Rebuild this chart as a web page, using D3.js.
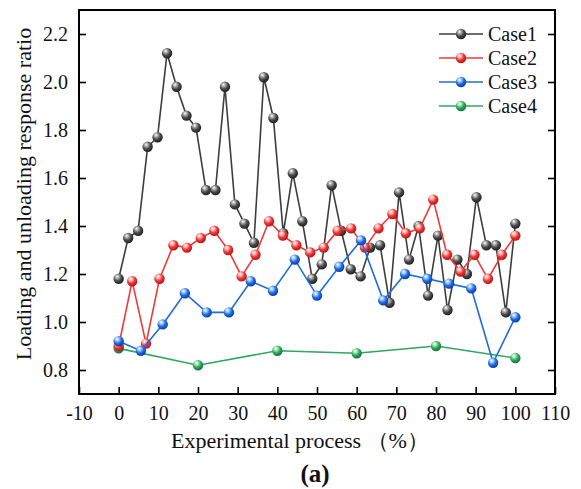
<!DOCTYPE html>
<html>
<head>
<meta charset="utf-8">
<script src="https://cdn.jsdelivr.net/npm/d3@7/dist/d3.min.js"></script>
<style>
  body { margin: 0; background: #fff; }
  svg { display: block; font-family: "Liberation Serif", "Times New Roman", serif; }
</style>
</head>
<body>
<div id="chart"></div>
<script>
// values
const xCase1 = [0, 2.4, 4.9, 7.3, 9.8, 12.2, 14.6, 17.1, 19.5, 22.0, 24.4, 26.8, 29.3, 31.7, 34.1, 36.6, 39.0, 41.5, 43.9, 46.3, 48.8, 51.2, 53.7, 56.1, 58.5, 61.0, 63.4, 65.9, 68.3, 70.7, 73.2, 75.6, 78.0, 80.5, 82.9, 85.4, 87.8, 90.2, 92.7, 95.1, 97.6, 100];
const yCase1 = [1.18, 1.35, 1.38, 1.73, 1.77, 2.12, 1.98, 1.86, 1.81, 1.55, 1.55, 1.98, 1.49, 1.41, 1.33, 2.02, 1.85, 1.37, 1.62, 1.42, 1.18, 1.24, 1.57, 1.38, 1.22, 1.19, 1.31, 1.32, 1.08, 1.54, 1.26, 1.40, 1.11, 1.36, 1.05, 1.26, 1.20, 1.52, 1.32, 1.32, 1.04, 1.41];

const xCase2 = [0, 3.4, 6.9, 10.3, 13.8, 17.2, 20.7, 24.1, 27.6, 31.0, 34.5, 37.9, 41.4, 44.8, 48.3, 51.7, 55.2, 58.6, 62.1, 65.5, 69.0, 72.4, 75.9, 79.3, 82.8, 86.2, 89.7, 93.1, 96.6, 100];
const yCase2 = [0.90, 1.17, 0.91, 1.18, 1.32, 1.31, 1.35, 1.38, 1.30, 1.19, 1.28, 1.42, 1.36, 1.32, 1.29, 1.31, 1.38, 1.39, 1.31, 1.39, 1.45, 1.37, 1.39, 1.51, 1.28, 1.21, 1.28, 1.18, 1.28, 1.36];

const xCase3 = [0, 5.6, 11.1, 16.7, 22.2, 27.8, 33.3, 38.9, 44.4, 50, 55.6, 61.1, 66.7, 72.2, 77.8, 83.3, 88.9, 94.4, 100];
const yCase3 = [0.92, 0.88, 0.99, 1.12, 1.04, 1.04, 1.17, 1.13, 1.26, 1.11, 1.23, 1.34, 1.09, 1.20, 1.18, 1.16, 1.14, 0.83, 1.02];

const xCase4 = [0, 20, 40, 60, 80, 100];
const yCase4 = [0.89, 0.82, 0.88, 0.87, 0.90, 0.85];

const xTicks = [-10, 0, 10, 20, 30, 40, 50, 60, 70, 80, 90, 100, 110];
const yTicks = [0.8, 1.0, 1.2, 1.4, 1.6, 1.8, 2.0, 2.2];

const seriesNames = ['Case1', 'Case2', 'Case3', 'Case4'];

const wSvg = 581;
const hSvg = 489;
const margin = { left: 79, right: 26, top: 10, bottom: 95 };

const colors = {
    Case1: { line: '#3d3d3d', light: '#b0b0b0', mid: '#4a4a4a', dark: '#202020' },
    Case2: { line: '#f03a3a', light: '#ffb8b8', mid: '#f03434', dark: '#b01818' },
    Case3: { line: '#1f6de0', light: '#a8ccff', mid: '#1f6de6', dark: '#0c3f9a' },
    Case4: { line: '#2ea860', light: '#a8e8c0', mid: '#2faa5c', dark: '#17703a' }
};

const series = {
    Case1: xCase1.map((x, i) => ({ x: x, y: yCase1[i] })),
    Case2: xCase2.map((x, i) => ({ x: x, y: yCase2[i] })),
    Case3: xCase3.map((x, i) => ({ x: x, y: yCase3[i] })),
    Case4: xCase4.map((x, i) => ({ x: x, y: yCase4[i] }))
};

const svg = d3.select('#chart').append('svg')
    .attr('width', wSvg)
    .attr('height', hSvg);

// shaded ball markers
const defs = svg.append('defs');
seriesNames.forEach(name => {
    const grad = defs.append('radialGradient')
        .attr('id', `ball${name}`)
        .attr('cx', '0.4').attr('cy', '0.35').attr('r', '0.65')
        .attr('fx', '0.35').attr('fy', '0.28');
    grad.append('stop').attr('offset', '0%').attr('stop-color', '#ffffff');
    grad.append('stop').attr('offset', '25%').attr('stop-color', colors[name].light);
    grad.append('stop').attr('offset', '60%').attr('stop-color', colors[name].mid);
    grad.append('stop').attr('offset', '100%').attr('stop-color', colors[name].dark);
});

const xScale = d3.scaleLinear([-10, 110], [margin.left, wSvg - margin.right]);
const yScale = d3.scaleLinear([0.7, 2.3], [hSvg - margin.bottom, margin.top]);

const tickFont = '20px';

// x axis, plain hyphen for negatives like the original
const xAxis = svg.append('g')
    .attr('transform', `translate(0, ${hSvg - margin.bottom})`)
    .call(d3.axisBottom(xScale).tickValues(xTicks).tickSize(-7).tickPadding(12).tickFormat(d => String(d)));
xAxis.select('.domain').remove();

// y axis
const yAxis = svg.append('g')
    .attr('transform', `translate(${margin.left}, 0)`)
    .call(d3.axisLeft(yScale).tickValues(yTicks).tickSize(-7).tickPadding(11).tickFormat(d3.format('.1f')));
yAxis.select('.domain').remove();

// right axis, ticks only
const yAxisR = svg.append('g')
    .attr('transform', `translate(${wSvg - margin.right}, 0)`)
    .call(d3.axisRight(yScale).tickValues(yTicks).tickSize(-7).tickFormat(''));
yAxisR.select('.domain').remove();

svg.selectAll('.tick line').attr('stroke', '#000').attr('stroke-width', 1.6);
svg.selectAll('.tick text')
    .attr('fill', '#111')
    .style('font-size', tickFont)
    .style('font-family', '"Liberation Serif", serif');

// frame
svg.append('rect')
    .attr('x', margin.left)
    .attr('y', margin.top)
    .attr('width', wSvg - margin.left - margin.right)
    .attr('height', hSvg - margin.top - margin.bottom)
    .attr('fill', 'none')
    .attr('stroke', '#000')
    .attr('stroke-width', 2);

const line = d3.line()
    .x(d => xScale(d.x))
    .y(d => yScale(d.y));

// drawing order, blue ends up on top
const drawOrder = ['Case4', 'Case1', 'Case2', 'Case3'];
drawOrder.forEach(name => {
    const g = svg.append('g').attr('class', `series ${name}`);
    g.append('path')
        .datum(series[name])
        .attr('d', line)
        .attr('fill', 'none')
        .attr('stroke', colors[name].line)
        .attr('stroke-width', 1.6);
    g.selectAll('circle')
        .data(series[name])
        .enter()
        .append('circle')
            .attr('cx', d => xScale(d.x))
            .attr('cy', d => yScale(d.y))
            .attr('r', 5.2)
            .attr('fill', `url(#ball${name})`);
});

// legend
const legend = svg.append('g').attr('transform', 'translate(439, 34)');
seriesNames.forEach((name, i) => {
    const row = legend.append('g').attr('transform', `translate(0, ${i * 24})`);
    row.append('line')
        .attr('x1', 0).attr('x2', 44)
        .attr('y1', 0).attr('y2', 0)
        .attr('stroke', colors[name].line)
        .attr('stroke-width', 1.6);
    row.append('circle')
        .attr('cx', 22).attr('cy', 0).attr('r', 5.2)
        .attr('fill', `url(#ball${name})`);
    row.append('text')
        .attr('x', 49).attr('y', 0)
        .attr('dy', '0.35em')
        .style('font-size', '20px')
        .attr('fill', '#111')
        .text(name);
});

// axis titles
svg.append('text')
    .attr('x', 300)
    .attr('y', 448)
    .attr('text-anchor', 'middle')
    .style('font-size', '22px')
    .attr('fill', '#111')
    .text('Experimental process （%）');

svg.append('text')
    .attr('transform', `translate(31, 194) rotate(-90)`)
    .attr('text-anchor', 'middle')
    .style('font-size', '22px')
    .attr('fill', '#111')
    .text('Loading and unloading response ratio');

svg.append('text')
    .attr('x', 315)
    .attr('y', 482)
    .attr('text-anchor', 'middle')
    .style('font-size', '25px')
    .style('font-weight', 'bold')
    .attr('fill', '#111')
    .text('(a)');
</script>
</body>
</html>
